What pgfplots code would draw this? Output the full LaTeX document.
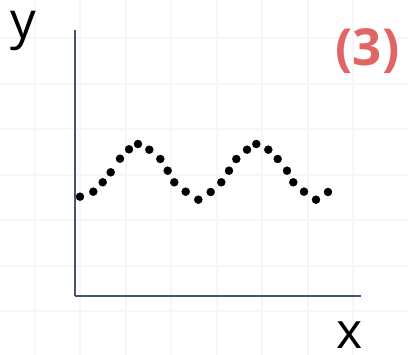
\documentclass[border=0pt]{standalone}
\usepackage{pgfplots}
\pgfplotsset{compat=1.18}
\usepackage{pgfplotstable}
\usepackage{fontspec}
\setmainfont{Open Sans}

\definecolor{gridgray}{RGB}{246,246,246}
\definecolor{axisslate}{RGB}{70,84,110}
\definecolor{labelred}{RGB}{224,102,102}

% sampled points of the wave
\pgfplotstableread{
x      y
5.0    99.3
18.3   104.3
27.7   113.7
35.7   123.7
45.0   137.3
54.0   146.7
63.0   152.0
74.3   146.3
85.3   137.0
92.7   125.3
99.3   113.7
110.7  104.3
123.3  96.3
135.7  104.0
146.3  113.7
154.0  125.3
161.3  137.0
172.0  146.3
181.3  152.0
193.3  146.3
202.7  137.0
212.0  125.3
218.3  113.7
229.0  104.3
241.0  96.3
253.0  104.0
}\wavedata

\begin{document}
\begin{tikzpicture}[x=1pt,y=1pt]
\fill[white] (0,0) rectangle (408,355);
% faint square grid behind everything
\begin{axis}[
  at={(0pt,0pt)}, anchor=south west,
  width=408pt, height=355pt, scale only axis,
  xmin=0, xmax=408, ymin=0, ymax=355, y dir=reverse,
  axis line style={draw=none},
  xtick={34.9,80.4,125.9,171.4,216.9,262.4,307.9,353.4},
  ytick={38.5,84,129.5,175,220.5,266,311.5},
  xticklabels={}, yticklabels={},
  major tick length=0pt,
  grid=major,
  grid style={gridgray, line width=2pt},
  clip=false,
]
\node[anchor=base west, font=\fontsize{51}{51}\selectfont, inner sep=0pt] at (axis cs:10,39) {y};
\node[anchor=base west, font=\fontsize{50}{50}\selectfont, inner sep=0pt] at (axis cs:336.5,348.5) {x};
\node[anchor=base west, font=\bfseries\fontsize{51}{51}\selectfont, text=labelred, inner sep=0pt] at (axis cs:335.5,65.5) {(3)};
\end{axis}
% the plot itself
\begin{axis}[
  at={(75pt,59pt)}, anchor=south west,
  width=285.7pt, height=266pt, scale only axis,
  xmin=0, xmax=285.7, ymin=0, ymax=266,
  axis lines=left,
  axis line style={-, axisslate, line width=2pt},
  xtick=\empty, ytick=\empty,
  clip=false,
]
\addplot[only marks, mark=*, mark size=4pt, black] table[x=x, y=y] {\wavedata};
\end{axis}
\pgfresetboundingbox
\useasboundingbox (0,0) rectangle (408,355);
\end{tikzpicture}
\end{document}
